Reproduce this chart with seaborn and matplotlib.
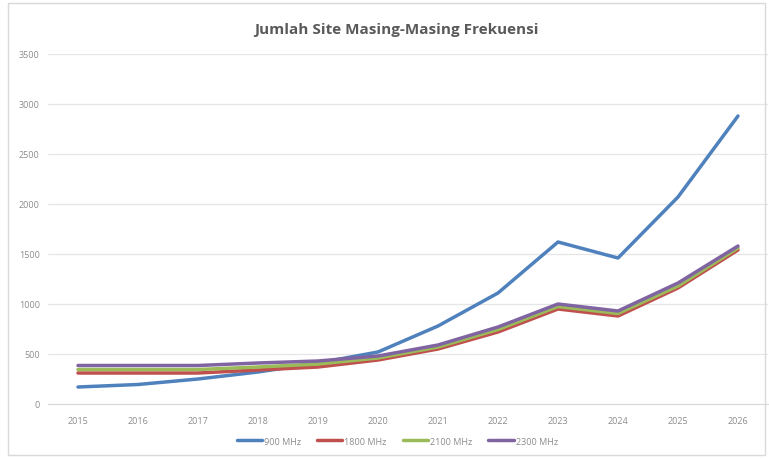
import pandas as pd
import seaborn as sns
from matplotlib import pyplot as plt
from matplotlib.patches import Rectangle

tahun = ["2015", "2016", "2017", "2018", "2019", "2020",
         "2021", "2022", "2023", "2024", "2025", "2026"]
mhz900 = [170, 195, 250, 320, 410, 520, 780, 1110, 1620, 1460, 2070, 2880]
mhz1800 = [310, 310, 310, 340, 370, 440, 550, 720, 950, 880, 1160, 1540]
mhz2100 = [345, 345, 345, 370, 400, 460, 570, 745, 975, 905, 1180, 1560]
mhz2300 = [385, 385, 385, 410, 430, 480, 590, 770, 1000, 930, 1210, 1580]
seri = ["900 MHz", "1800 MHz", "2100 MHz", "2300 MHz"]
warna = ["#4F81BD", "#C0504D", "#9BBB59", "#8064A2"]

df = pd.DataFrame({"tahun": tahun * 4,
                   "jumlah": mhz900 + mhz1800 + mhz2100 + mhz2300,
                   "frek": [s for s in seri for _ in tahun]})

sns.set_style("white")
plt.rcParams['font.family'] = ['Open Sans', 'DejaVu Sans']

fig = plt.figure(figsize=(7.69, 4.60), dpi=100)
ax = fig.add_axes([48 / 769, 55 / 460, 720 / 769, 350 / 460])

sns.lineplot(data=df, x="tahun", y="jumlah", hue="frek", hue_order=seri,
             palette=warna, linewidth=2.5, sort=False, ax=ax)

ax.set_xlim(-0.5, 11.5)
ax.set_ylim(0, 3500)
ax.set_yticks(range(0, 3501, 500))
ax.yaxis.grid(True, color="#e6e6e6", linewidth=0.9)
for s in ["top", "right", "left"]:
    ax.spines[s].set_visible(False)
ax.spines["bottom"].set_color("#d9d9d9")
ax.tick_params(axis="both", labelsize=6.5, colors="#8c8c8c", length=0)
ax.tick_params(axis="x", pad=9)
ax.tick_params(axis="y", pad=6)
ax.set_xlabel("")
ax.set_ylabel("")

ax.legend(loc="upper center", bbox_to_anchor=(0.485, -0.07), ncol=4,
          frameon=False, fontsize=6.5, labelcolor="#8c8c8c",
          handlelength=2.8, handletextpad=0.2, columnspacing=1.8)

fig.text(0.515, 0.935, "Jumlah Site Masing-Masing Frekuensi", ha="center",
         va="center", fontsize=11, fontweight="bold", color="#595959")

fig.patches.append(Rectangle((8 / 769, 4 / 460), 757 / 769, 452 / 460,
                             transform=fig.transFigure, fill=False,
                             edgecolor="#d9d9d9", linewidth=1))

fig.savefig("out.png", dpi=100)
